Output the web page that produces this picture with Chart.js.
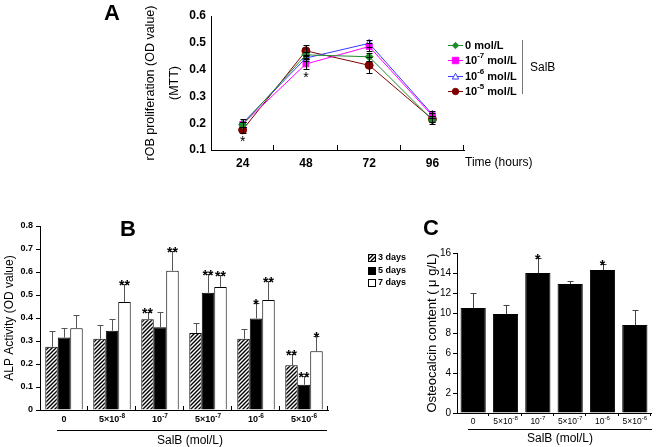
<!DOCTYPE html>
<html>
<head>
<meta charset="utf-8">
<script src="https://cdn.jsdelivr.net/npm/chart.js@4.4.0/dist/chart.umd.min.js"></script>
<style>
body{margin:0;background:#fff;width:661px;height:447px;position:relative;overflow:hidden}
canvas{position:absolute}
</style>
</head>
<body>
<canvas id="chartA" width="661" height="200" style="left:0;top:0"></canvas>
<canvas id="chartB" width="420" height="247" style="left:0;top:200px"></canvas>
<canvas id="chartC" width="241" height="247" style="left:420px;top:200px"></canvas>
<script>
// panel A - MTT
const hours = ['24', '48', '72', '96'];
const mtt0 = [0.195, 0.455, 0.448, 0.212];
const mtt7 = [0.196, 0.421, 0.486, 0.228];
const mtt6 = [0.200, 0.443, 0.498, 0.233];
const mtt5 = [0.175, 0.470, 0.416, 0.215];
const mttErr0 = [0.010, 0.012, 0.015, 0.016];
const mttErr7 = [0.010, 0.020, 0.015, 0.010];
const mttErr6 = [0.015, 0.010, 0.012, 0.012];
const mttErr5 = [0.010, 0.020, 0.030, 0.012];
const mttStars7 = ['', '*', '', ''];
const mttStars5 = ['*', '', '', ''];

// panel B - ALP
const doses = ['0', '5×10⁻⁸', '10⁻⁷', '5×10⁻⁷', '10⁻⁶', '5×10⁻⁶'];
const alp3 = [0.275, 0.310, 0.395, 0.335, 0.310, 0.195];
const alp5 = [0.315, 0.345, 0.360, 0.510, 0.398, 0.110];
const alp7 = [0.355, 0.470, 0.605, 0.535, 0.478, 0.255];
const alpErr3 = [0.070, 0.060, 0.030, 0.045, 0.042, 0.050];
const alpErr5 = [0.043, 0.050, 0.068, 0.080, 0.067, 0.040];
const alpErr7 = [0.060, 0.080, 0.085, 0.050, 0.082, 0.065];
const alpStars3 = ['', '', '**', '', '', '**'];
const alpStars5 = ['', '', '', '**', '*', '**'];
const alpStars7 = ['', '**', '**', '**', '**', '*'];

// panel C - osteocalcin
const ocn = [10.5, 9.9, 14.0, 12.9, 14.3, 8.8];
const ocnErr = [1.5, 0.9, 1.5, 0.3, 0.6, 1.5];
const ocnStars = ['', '', '*', '', '*', ''];

Chart.defaults.font.family = 'Arial, "Liberation Sans", sans-serif';
Chart.defaults.color = '#000';

function hatch() {
  const c = document.createElement('canvas');
  c.width = 4; c.height = 4;
  const g = c.getContext('2d');
  g.fillStyle = '#fff'; g.fillRect(0, 0, 4, 4);
  g.strokeStyle = '#000'; g.lineWidth = 1.4;
  g.beginPath();
  g.moveTo(0, 4); g.lineTo(4, 0);
  g.moveTo(-1, 1); g.lineTo(1, -1);
  g.moveTo(3, 5); g.lineTo(5, 3);
  g.stroke();
  return g.createPattern(c, 'repeat');
}
const stripes = hatch();

// split '10⁻⁷ mol/L' into normal and raised pieces
const supMap = {'⁻': '-', '⁰': '0', '¹': '1', '²': '2', '³': '3', '⁴': '4', '⁵': '5', '⁶': '6', '⁷': '7', '⁸': '8', '⁹': '9'};
function pieces(s) {
  const out = [];
  for (const ch of s) {
    const sup = ch in supMap;
    const c = sup ? supMap[ch] : ch;
    if (out.length && out[out.length - 1].sup === sup) out[out.length - 1].t += c;
    else out.push({t: c, sup});
  }
  return out;
}
function richText(ctx, s, x, y, size, weight, align) {
  const parts = pieces(s);
  const f = (sup) => weight + ' ' + (sup ? size * 0.72 : size) + 'px Arial';
  let w = 0;
  parts.forEach(p => { ctx.font = f(p.sup); p.w = ctx.measureText(p.t).width; w += p.w; });
  let cx = align === 'center' ? x - w / 2 : x;
  ctx.textAlign = 'left'; ctx.textBaseline = 'middle'; ctx.fillStyle = '#000';
  parts.forEach(p => {
    ctx.font = f(p.sup);
    ctx.fillText(p.t, cx, p.sup ? y - size * 0.38 : y);
    cx += p.w;
  });
}

function drawMarker(ctx, style, x, y, r, stroke, fill) {
  ctx.beginPath();
  if (style === 'rectRot') { ctx.moveTo(x, y - r); ctx.lineTo(x + r, y); ctx.lineTo(x, y + r); ctx.lineTo(x - r, y); }
  else if (style === 'rect') ctx.rect(x - r, y - r, 2 * r, 2 * r);
  else if (style === 'triangle') { ctx.moveTo(x, y - r); ctx.lineTo(x + r, y + r * 0.8); ctx.lineTo(x - r, y + r * 0.8); }
  else ctx.arc(x, y, r, 0, Math.PI * 2);
  ctx.closePath();
  ctx.fillStyle = fill; ctx.fill();
  ctx.strokeStyle = stroke; ctx.lineWidth = 1; ctx.stroke();
}

const errorBars = {
  id: 'errorBars',
  afterDatasetsDraw(chart, args, o) {
    const ctx = chart.ctx, y = chart.scales.y;
    chart.data.datasets.forEach((ds, i) => {
      if (!ds.errors) return;
      chart.getDatasetMeta(i).data.forEach((el, j) => {
        const v = ds.data[j], e = ds.errors[j];
        const top = Math.round(y.getPixelForValue(v + e)) + 0.5;
        const bot = o.both ? Math.round(y.getPixelForValue(v - e)) + 0.5 : el.y;
        const x = Math.round(el.x) + 0.5;
        ctx.save();
        ctx.strokeStyle = o.color; ctx.lineWidth = 1;
        ctx.beginPath();
        ctx.moveTo(x, top); ctx.lineTo(x, bot);
        ctx.moveTo(x - o.cap, top); ctx.lineTo(x + o.cap, top);
        if (o.both) { ctx.moveTo(x - o.cap, bot); ctx.lineTo(x + o.cap, bot); }
        ctx.stroke();
        const s = ds.stars && ds.stars[j];
        if (s) {
          ctx.fillStyle = '#000'; ctx.font = o.starFont;
          ctx.textAlign = 'center'; ctx.textBaseline = 'alphabetic';
          if (o.both) ctx.fillText(s, el.x, bot + 12);
          else ctx.fillText(s, el.x, top + 5);
        }
        ctx.restore();
      });
    });
  }
};

// small ticks between categories (positive len = inside) and category labels with superscripts
const catAxis = {
  id: 'catAxis',
  afterDraw(chart, args, o) {
    const x = chart.scales.x, ctx = chart.ctx, b = chart.chartArea.bottom;
    ctx.save();
    if (o.len) {
      ctx.strokeStyle = '#000'; ctx.lineWidth = 1;
      ctx.beginPath();
      for (let i = 0; i < chart.data.labels.length; i++) {
        const px = Math.round(x.getPixelForValue(i + 0.5)) - 0.5;
        ctx.moveTo(px, b); ctx.lineTo(px, b - o.len);
      }
      ctx.stroke();
    }
    if (o.labels) {
      chart.data.labels.forEach((lab, i) => {
        richText(ctx, lab, x.getPixelForValue(i), b + o.labelDy, o.size, o.weight, 'center');
      });
    }
    ctx.restore();
  }
};

const notes = {
  id: 'notes',
  afterDraw(chart, args, o) {
    const ctx = chart.ctx;
    ctx.save();
    (o.lines || []).forEach(l => {
      ctx.strokeStyle = l.color || '#000'; ctx.lineWidth = 1;
      ctx.beginPath(); ctx.moveTo(l.x1, l.y1); ctx.lineTo(l.x2, l.y2); ctx.stroke();
    });
    (o.texts || []).forEach(t => {
      ctx.save();
      ctx.fillStyle = '#000'; ctx.font = t.font;
      ctx.textAlign = t.align || 'left'; ctx.textBaseline = 'middle';
      ctx.translate(t.x, t.y);
      if (t.rot) ctx.rotate(t.rot);
      ctx.fillText(t.text, 0, 0);
      ctx.restore();
    });
    ctx.restore();
  }
};

const lineLegend = {
  id: 'lineLegend',
  afterDraw(chart, args, o) {
    if (!o.x) return;
    const ctx = chart.ctx;
    chart.data.datasets.forEach((ds, i) => {
      const y = Math.round(o.y + i * o.gap) + 0.5;
      ctx.save();
      ctx.strokeStyle = ds.borderColor; ctx.lineWidth = 1;
      ctx.beginPath(); ctx.moveTo(o.x, y); ctx.lineTo(o.x + 15, y); ctx.stroke();
      drawMarker(ctx, ds.pointStyle, o.x + 7.5, y, 3.2, ds.borderColor, ds.pointBackgroundColor);
      richText(ctx, ds.label, o.x + 17, y, o.size, o.weight, 'left');
      ctx.restore();
    });
  }
};

const boxLegend = {
  id: 'boxLegend',
  afterDraw(chart, args, o) {
    if (!o.x) return;
    const ctx = chart.ctx;
    chart.data.datasets.forEach((ds, i) => {
      const y = Math.round(o.y + i * o.gap);
      ctx.save();
      ctx.fillStyle = ds.backgroundColor;
      ctx.fillRect(o.x, y - 4, 8, 8);
      ctx.strokeStyle = '#000'; ctx.lineWidth = 1;
      ctx.strokeRect(o.x + 0.5, y - 3.5, 7, 7);
      ctx.fillStyle = '#000'; ctx.font = o.font; ctx.textBaseline = 'middle';
      ctx.fillText(ds.label, o.x + 10, y);
      ctx.restore();
    });
  }
};

const noTip = {legend: {display: false}, tooltip: {enabled: false}};

new Chart(document.getElementById('chartA'), {
  type: 'line',
  data: {
    labels: hours,
    datasets: [
      {label: '0 mol/L', data: mtt0, errors: mttErr0, borderColor: '#1e8c2a', pointBackgroundColor: '#1e8c2a', pointStyle: 'rectRot', pointRadius: 4},
      {label: '10⁻⁷ mol/L', data: mtt7, errors: mttErr7, stars: mttStars7, borderColor: '#ff00ff', pointBackgroundColor: '#ff00ff', pointStyle: 'rect', pointRadius: 4},
      {label: '10⁻⁶ mol/L', data: mtt6, errors: mttErr6, borderColor: '#3a3aff', pointBackgroundColor: '#ffffff', pointStyle: 'triangle', pointRadius: 4},
      {label: '10⁻⁵ mol/L', data: mtt5, errors: mttErr5, stars: mttStars5, borderColor: '#800000', pointBackgroundColor: '#800000', pointStyle: 'circle', pointRadius: 4}
    ].map(d => Object.assign(d, {borderWidth: 1, pointBorderColor: d.borderColor, pointBorderWidth: 1, fill: false}))
  },
  options: {
    responsive: false,
    animation: false,
    layout: {padding: {left: 136, right: 197, top: 16, bottom: 0}},
    plugins: Object.assign({
      errorBars: {both: true, cap: 3, color: '#000', starFont: '14px Arial'},
      catAxis: {len: 5},
      lineLegend: {x: 448, y: 45, gap: 15.3, size: 11, weight: 'bold'},
      notes: {
        lines: [{x1: 522.5, y1: 40, x2: 522.5, y2: 94, color: '#777'}],
        texts: [
          {text: 'A', x: 112, y: 14, font: 'bold 22px Arial', align: 'center'},
          {text: 'SalB', x: 530, y: 68, font: '12px Arial'},
          {text: 'Time (hours)', x: 465, y: 163, font: '12px Arial'},
          {text: 'rOB proliferation (OD value)', x: 151, y: 83, rot: -Math.PI / 2, font: '12.5px Arial', align: 'center'},
          {text: '(MTT)', x: 175, y: 83, rot: -Math.PI / 2, font: '12.5px Arial', align: 'center'}
        ]
      }
    }, noTip),
    scales: {
      x: {
        offset: true,
        grid: {display: false, drawTicks: false},
        border: {display: true, color: '#000'},
        ticks: {font: {size: 12, weight: 'bold'}, padding: 6},
        afterFit(s) { s.height = 50; }
      },
      y: {
        min: 0.1, max: 0.6,
        grid: {display: false, drawTicks: false},
        border: {display: true, color: '#000'},
        ticks: {stepSize: 0.1, font: {size: 12, weight: 'bold'}, padding: 5, callback: v => v.toFixed(1)},
        afterFit(s) { s.width = 75; }
      }
    }
  },
  plugins: [errorBars, catAxis, lineLegend, notes]
});

new Chart(document.getElementById('chartB'), {
  type: 'bar',
  data: {
    labels: doses,
    datasets: [
      {label: '3 days', data: alp3, errors: alpErr3, stars: alpStars3, backgroundColor: stripes},
      {label: '5 days', data: alp5, errors: alpErr5, stars: alpStars5, backgroundColor: '#000'},
      {label: '7 days', data: alp7, errors: alpErr7, stars: alpStars7, backgroundColor: '#fff'}
    ].map(d => Object.assign(d, {borderColor: '#000', borderWidth: 1, barPercentage: 1, categoryPercentage: 0.78}))
  },
  options: {
    responsive: false,
    animation: false,
    layout: {padding: {left: 0, right: 92, top: 26, bottom: 0}},
    plugins: Object.assign({
      errorBars: {both: false, cap: 3, color: '#555', starFont: 'bold 14px Arial'},
      catAxis: {len: 4, labels: true, labelDy: 10, size: 9, weight: 'bold'},
      boxLegend: {x: 368, y: 58, gap: 12.5, font: 'bold 9px Arial'},
      notes: {
        lines: [{x1: 57, y1: 230.5, x2: 327, y2: 230.5}],
        texts: [
          {text: 'B', x: 128, y: 30, font: 'bold 22px Arial', align: 'center'},
          {text: 'SalB (mol/L)', x: 190, y: 241, font: '12px Arial', align: 'center'}
        ]
      }
    }, noTip),
    scales: {
      x: {
        grid: {display: false, drawTicks: false},
        border: {display: true, color: '#000'},
        ticks: {display: false},
        afterFit(s) { s.height = 37; }
      },
      y: {
        min: 0, max: 0.8,
        grid: {display: true, drawOnChartArea: false, tickLength: 4, color: '#000'},
        border: {display: true, color: '#000'},
        ticks: {stepSize: 0.1, font: {size: 9, weight: 'bold'}, padding: 3, callback: v => v === 0 ? '0' : v.toFixed(1)},
        title: {display: true, text: 'ALP Activity (OD value)', font: {size: 12, lineHeight: 1.6}, padding: 0},
        afterFit(s) { s.width = 40; }
      }
    }
  },
  plugins: [errorBars, catAxis, boxLegend, notes]
});

new Chart(document.getElementById('chartC'), {
  type: 'bar',
  data: {
    labels: doses,
    datasets: [
      {label: 'Osteocalcin', data: ocn, errors: ocnErr, stars: ocnStars, backgroundColor: '#000', borderColor: '#000', borderWidth: 1, barPercentage: 0.78, categoryPercentage: 1}
    ]
  },
  options: {
    responsive: false,
    animation: false,
    layout: {padding: {left: 0, right: 10, top: 53, bottom: 0}},
    plugins: Object.assign({
      errorBars: {both: false, cap: 3, color: '#444', starFont: 'bold 14px Arial'},
      catAxis: {len: -3, labels: true, labelDy: 8.5, size: 8.5, weight: 'normal'},
      notes: {
        lines: [{x1: 48, y1: 229.5, x2: 232, y2: 229.5}],
        texts: [
          {text: 'C', x: 11, y: 29, font: 'bold 22px Arial', align: 'center'},
          {text: 'SalB (mol/L)', x: 140, y: 239, font: '12px Arial', align: 'center'}
        ]
      }
    }, noTip),
    scales: {
      x: {
        grid: {display: false, drawTicks: false},
        border: {display: true, color: '#000'},
        ticks: {display: false},
        afterFit(s) { s.height = 34; }
      },
      y: {
        min: 0, max: 16,
        grid: {display: true, drawOnChartArea: false, tickLength: 4, color: '#000'},
        border: {display: true, color: '#000'},
        ticks: {stepSize: 2, font: {size: 10}, padding: 2},
        title: {display: true, text: 'Osteocalcin content ( μ g/L)', font: {size: 13, lineHeight: 1.85}, padding: 0},
        afterFit(s) { s.width = 37; }
      }
    }
  },
  plugins: [errorBars, catAxis, notes]
});
</script>
</body>
</html>
